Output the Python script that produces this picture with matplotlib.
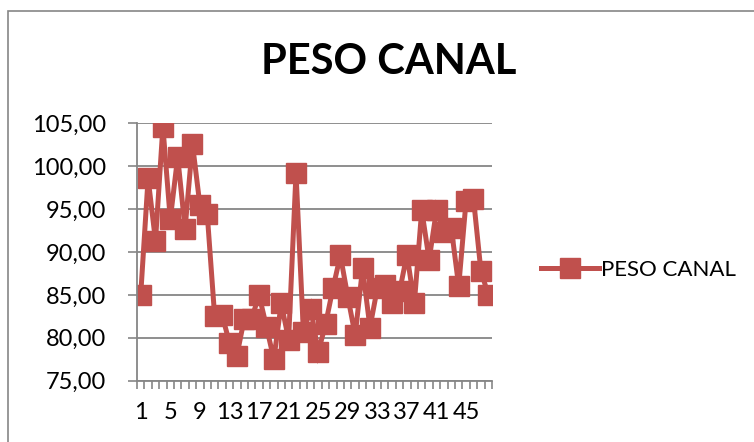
import numpy as np
import matplotlib.pyplot as plt
from matplotlib.patches import Rectangle
from matplotlib.ticker import FuncFormatter, MultipleLocator

# Datos
muestras = list(range(1, 49))
peso_canal = [85.0, 98.6, 91.3, 104.6, 93.8, 101.1, 92.7, 102.6, 95.5, 94.4,
              82.5, 82.7, 79.4, 77.9, 82.2, 82.2, 85.0, 81.3, 77.5, 84.0,
              79.8, 99.2, 80.7, 83.4, 78.3, 81.6, 85.8, 89.6, 84.8, 80.3,
              88.1, 81.2, 85.8, 86.2, 84.0, 85.4, 89.7, 84.0, 94.9, 89.1,
              94.9, 92.3, 92.8, 86.0, 96.0, 96.2, 87.8, 85.0]
etiquetas_x = muestras[::4]
serie = 'PESO CANAL'

plt.rcParams['font.family'] = ['Lato', 'DejaVu Sans']
rojo = '#C0504D'
gris = '#868686'

fig = plt.figure(figsize=(7.54, 4.42), dpi=100)
ax = fig.add_axes([0.1817, 0.1387, 0.4708, 0.5823])

ax.plot(muestras, peso_canal, color=rojo, lw=3.6, marker='s', ms=14.5,
        markeredgecolor=rojo, label=serie, solid_joinstyle='miter')

ax.set_xlim(0.5, 48.5)
ax.set_ylim(75, 105)
ax.yaxis.set_major_locator(MultipleLocator(5))
ax.yaxis.set_major_formatter(FuncFormatter(lambda v, p: f'{v:.2f}'.replace('.', ',')))
ax.set_xticks(etiquetas_x)
ax.set_xticklabels([str(v) for v in etiquetas_x])
ax.set_xticks(np.arange(0.5, 49, 1), minor=True)
ax.tick_params(axis='x', which='major', length=0, labelsize=17, pad=15)
ax.tick_params(axis='x', which='minor', length=6, width=1.2, color=gris, direction='out')
ax.tick_params(axis='y', length=6.5, width=1.2, color=gris, labelsize=17, pad=16)

ax.grid(axis='y', color=gris, lw=1.3)
ax.set_axisbelow(True)
for s in ['top', 'right']:
    ax.spines[s].set_visible(False)
for s in ['left', 'bottom']:
    ax.spines[s].set_color(gris)
    ax.spines[s].set_linewidth(1.3)

fig.text(0.515, 0.86, serie, ha='center', va='center', fontsize=30, fontweight='bold')

ax.legend(loc='center left', bbox_to_anchor=(0.703, 0.389), bbox_transform=fig.transFigure,
          frameon=False, fontsize=16, handlelength=2.6, handletextpad=0.1, borderpad=0)

# Borde del área del gráfico
fig.patches.append(Rectangle((8 / 754, -0.1), 1.2, (442 - 11) / 442 + 0.1,
                             transform=fig.transFigure, fill=False, ec=gris, lw=1.2))

fig.savefig('out.png', dpi=100)
